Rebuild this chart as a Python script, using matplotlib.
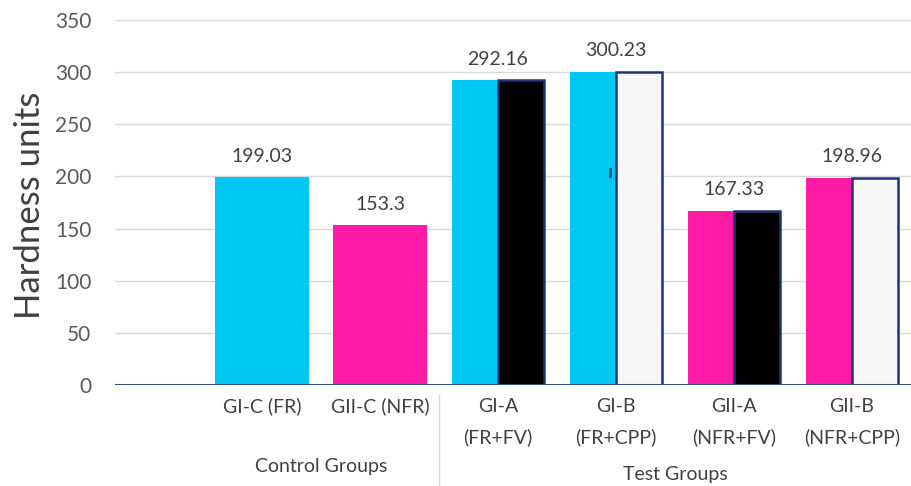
import matplotlib.pyplot as plt
import matplotlib.transforms as mtransforms
import numpy as np

plt.rcParams['font.family'] = ['Lato', 'DejaVu Sans']

# данные
groups = ["GI-C (FR)", "GII-C (NFR)", "GI-A\n(FR+FV)", "GI-B\n(FR+CPP)",
          "GII-A\n(NFR+FV)", "GII-B\n(NFR+CPP)"]
hardness = [199.03, 153.3, 292.16, 300.23, 167.33, 198.96]
paired = [False, False, True, True, True, True]
left_colors = ["#00c8f2", "#ff1aa8", "#00c8f2", "#00c8f2", "#ff1aa8", "#ff1aa8"]
right_colors = [None, None, "#000000", "#f7f7f7", "#000000", "#f7f7f7"]
section_names = ["Control Groups", "Test Groups"]
section_spans = [(0, 1), (2, 5)]

navy = "#1f3470"
x = np.arange(len(groups))

fig = plt.figure(figsize=(9.12, 4.86), dpi=100)
ax = fig.add_axes([0.126, 0.2078, 0.874, 0.751])

for i in range(len(groups)):
    if paired[i]:
        w = 0.39
        ax.bar(x[i] - w / 2, hardness[i], w, color=left_colors[i], zorder=2)
        ax.bar(x[i] + w / 2, hardness[i], w, color=right_colors[i],
               edgecolor=navy, linewidth=1.8, zorder=2)
    else:
        ax.bar(x[i], hardness[i], 0.8, color=left_colors[i], zorder=2)
    ax.text(x[i], hardness[i] + 12, f"{hardness[i]:g}", ha='center', va='bottom',
            fontsize=14, color="#404040")

# маленькая отметка внутри столбца GI-B
ax.plot([x[3] - 0.05, x[3] - 0.05], [200, 207], color="#2f528f", lw=2, zorder=3)

ax.axhline(0, color="#2f528f", lw=2.2, zorder=4)

ax.set_ylim(0, 350)
ax.set_yticks(np.arange(0, 351, 50))
ax.set_xlim(-1.246, 5.508)
ax.grid(axis='y', color="#d9d9d9", lw=1, zorder=0)
ax.set_axisbelow(True)
for s in ax.spines.values():
    s.set_visible(False)

ax.set_xticks(x)
ax.set_xticklabels(groups, fontsize=14, color="#404040", linespacing=1.9)
ax.tick_params(axis='x', length=0, pad=9)
ax.tick_params(axis='y', length=0, pad=17, labelsize=15, labelcolor="#595959")

# подписи групп и разделитель
trans = mtransforms.blended_transform_factory(ax.transData, ax.transAxes)
section_y = [-0.222, -0.244]
for name, (a, b), yy in zip(section_names, section_spans, section_y):
    ax.text((x[a] + x[b]) / 2, yy, name, transform=trans, ha='center', va='center',
            fontsize=14, color="#404040")
ax.plot([1.5, 1.5], [-0.027, -0.28], transform=trans, color="#d9d9d9", lw=1,
        clip_on=False)

fig.text(30 / 912, 0.578, "Hardness units", rotation=90, ha='center', va='center',
         fontsize=25, color="#404040")

fig.savefig("out.png", dpi=100)
